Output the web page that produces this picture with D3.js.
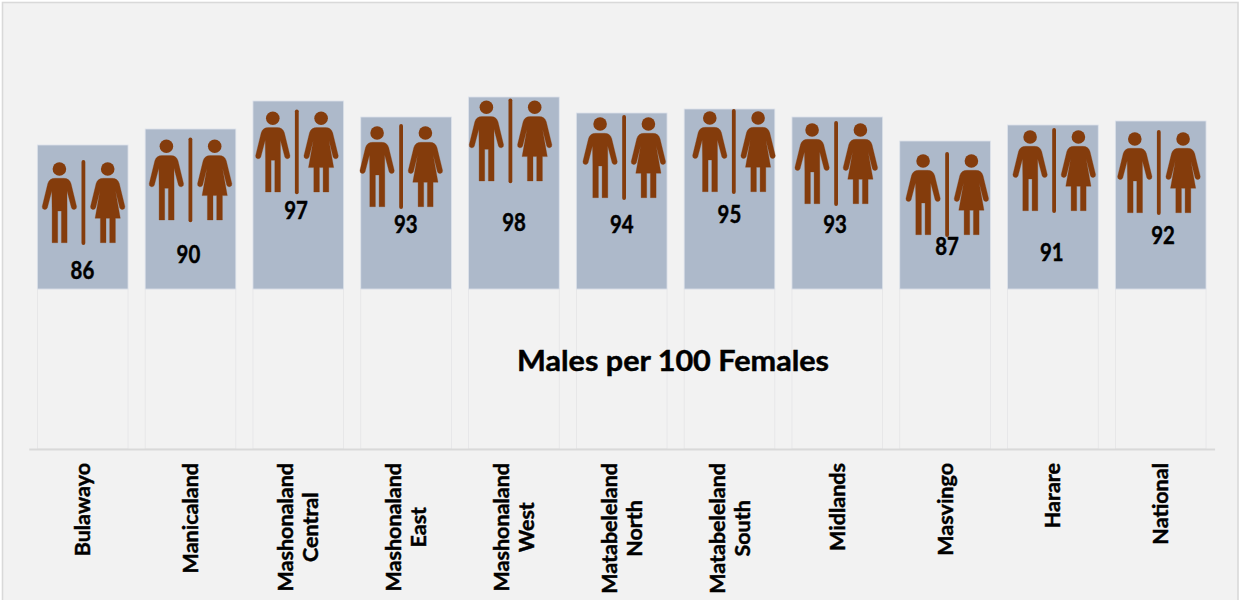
<!DOCTYPE html>
<html>
<head>
<meta charset="utf-8">
<script src="https://cdn.jsdelivr.net/npm/d3@7"></script>
<style>
html,body{margin:0;padding:0;background:#fff;overflow:hidden}
svg{display:block}
text{font-family:Lato,"Open Sans",sans-serif;font-weight:700;fill:#000;stroke:#000;stroke-width:0.45px;paint-order:stroke}
</style>
</head>
<body>
<svg id="chart" width="1239" height="600"></svg>
<script>
const categories = [["Bulawayo"],["Manicaland"],["Mashonaland","Central"],["Mashonaland","East"],["Mashonaland","West"],["Matabeleland","North"],["Matabeleland","South"],["Midlands"],["Masvingo"],["Harare"],["National"]];
const malesPer100 = [86,90,97,93,98,94,95,93,87,91,92];
const chartTitle = "Males per 100 Females";

// Hand placement of the pictograms and labels inside each bar (px)
const iconShiftX = [0.7,-0.1,-1.5,-5,-3.5,2.4,4.3,-1.2,2,1.2,-1.9];
const iconDrop   = [15,8.3,8.3,7,1.3,2,0,4,11,3,9];
const labelShiftX= [-0.3,-2.1,-2.2,-0.3,0.2,0.1,-0.1,-2.2,2,-1.1,2.4];
const labelDrop  = [125,125,109,107.3,125,111.3,105.3,107.3,105,127,114];

const BROWN="#843c0c", BLUE="#adb9ca", BG="#f2f2f2", RULE="#d9d9d9";
const splitValue = 50;

const manPath = "M-4.5,16.3 L4.5,16.3 C8,16.3 10.6,18 11.6,21.5 L17.2,44.5 A2.7,2.7 0 0 1 12,45.8 L7.6,29 L7.7,49 L7.7,80.7 L2,80.7 L2,49 L-1.7,49 L-1.7,80.7 L-7.3,80.7 L-7.3,49 L-7.6,29 L-12,45.8 A2.7,2.7 0 0 1 -17.2,44.5 L-11.6,21.5 C-10.6,18 -8,16.3 -4.5,16.3 Z";
const womanPath = "M-4.5,16.3 L4.5,16.3 C8,16.3 10.6,18 11.6,21.5 L17.2,44.5 A2.7,2.7 0 0 1 12,45.8 L7.8,29 L12.6,56.3 L7.7,56.3 L7.7,80.7 L2,80.7 L2,56.3 L-1.7,56.3 L-1.7,80.7 L-7.3,80.7 L-7.3,56.3 L-12.6,56.3 L-7.8,29 L-12,45.8 A2.7,2.7 0 0 1 -17.2,44.5 L-11.6,21.5 C-10.6,18 -8,16.3 -4.5,16.3 Z";

const svg = d3.select("#chart");
svg.append("rect").attr("x",2.5).attr("y",2.5).attr("width",1235.5).attr("height",610)
  .attr("fill",BG).attr("stroke",RULE).attr("stroke-width",1.6);

const x = d3.scaleBand().domain(d3.range(categories.length)).range([28.8,1214.6]).paddingInner(0.159).paddingOuter(0.0795);
const y = d3.scaleLinear().domain([10,100]).range([449,89]);
const row = malesPer100.map((v,i)=>({v,i}));

// faint lower segment
svg.append("g").selectAll("rect").data(row).join("rect")
  .attr("x",d=>x(d.i)).attr("width",x.bandwidth())
  .attr("y",y(splitValue)).attr("height",y(10)-y(splitValue))
  .attr("fill",BG).attr("stroke","#e4e4e6").attr("stroke-width",0.8);

// blue upper segment
svg.append("g").selectAll("rect").data(row).join("rect")
  .attr("x",d=>x(d.i)).attr("width",x.bandwidth())
  .attr("y",d=>y(d.v)).attr("height",d=>y(splitValue)-y(d.v))
  .attr("fill",BLUE).attr("stroke","#dde2ea").attr("stroke-width",0.8);

// axis
const axis = svg.append("g").attr("transform",`translate(0,${y(10)})`).call(d3.axisBottom(x).tickSize(0).tickFormat(""));
axis.select(".domain").attr("stroke",RULE).attr("stroke-width",2);

// pictograms
const icons = svg.append("g").selectAll("g").data(row).join("g")
  .attr("transform",d=>`translate(${x(d.i)+x.bandwidth()/2+iconShiftX[d.i]},${y(d.v)+iconDrop[d.i]})`);
icons.append("line").attr("y1",2).attr("y2",83).attr("stroke",BROWN).attr("stroke-width",3.8).attr("stroke-linecap","round");
[[-24,manPath],[24.3,womanPath]].forEach(([dx,p])=>{
  const g = icons.append("g").attr("transform",`translate(${dx},2)`);
  g.append("circle").attr("cy",7).attr("r",6.8).attr("fill",BROWN);
  g.append("path").attr("d",p).attr("fill",BROWN).attr("stroke",BROWN).attr("stroke-width",0.3);
});

// value labels
const vSize = 24;
svg.append("g").selectAll("text").data(row).join("text")
  .attr("text-anchor","middle").attr("font-size",vSize)
  .attr("transform",d=>`translate(${x(d.i)+x.bandwidth()/2+labelShiftX[d.i]},${y(d.v)+labelDrop[d.i]+vSize*0.36}) scale(0.85,1)`)
  .text(d=>d.v);

// category labels, rotated; each block hangs from the axis
const catG = svg.append("g");
row.forEach(d=>{
  const lines = categories[d.i];
  const g = catG.append("g").attr("transform",`translate(${x(d.i)+x.bandwidth()/2},463) rotate(-90)`);
  const ts = lines.map((t,k)=>g.append("text").attr("font-size",21.5).attr("text-anchor","middle")
    .attr("y",(k-(lines.length-1)/2)*25+7.5).text(t));
  const maxLen = d3.max(ts,t=>t.node().getComputedTextLength());
  ts.forEach(t=>t.attr("x",-maxLen/2));
});

// title
svg.append("text").attr("x",673).attr("y",371).attr("text-anchor","middle")
  .attr("font-size",28).attr("textLength",312).attr("lengthAdjust","spacingAndGlyphs").text(chartTitle);
</script>
</body>
</html>
